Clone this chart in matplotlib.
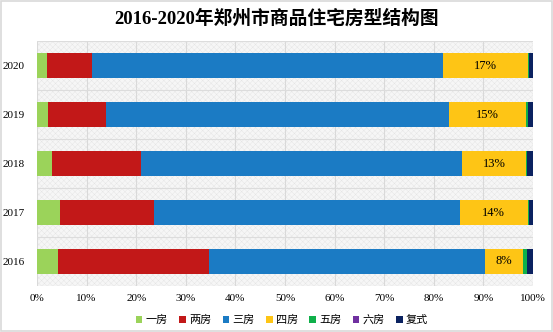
import matplotlib
matplotlib.use("Agg")
import matplotlib.pyplot as plt
from matplotlib.patches import Rectangle
import numpy as np

years = ["2016", "2017", "2018", "2019", "2020"]
series_names = ["一房", "两房", "三房", "四房", "五房", "六房", "复式"]
one_room = [4.2, 4.6, 3.1, 2.3, 2.1]
two_room = [30.5, 19.0, 17.9, 11.6, 9.0]
three_room = [55.6, 61.6, 64.7, 69.2, 70.8]
four_room = [7.7, 13.7, 12.9, 15.4, 17.0]
five_room = [0.7, 0.3, 0.1, 0.4, 0.3]
six_room = [0.0, 0.0, 0.0, 0.0, 0.0]
duplex = [1.3, 0.8, 1.3, 1.1, 0.8]
x_ticks = [0, 10, 20, 30, 40, 50, 60, 70, 80, 90, 100]
title = "2016-2020年郑州市商品住宅房型结构图"

colors = ["#9bd35a", "#c21818", "#1b7bc4", "#fec515", "#0fb04a", "#7030a0", "#0b2260"]
series = [one_room, two_room, three_room, four_room, five_room, six_room, duplex]

plt.rcParams['font.family'] = ['Liberation Serif', 'Noto Sans CJK SC', 'DejaVu Sans']
plt.rcParams['hatch.linewidth'] = 0.3

fig = plt.figure(figsize=(5.53, 3.32), dpi=100)
fig.patch.set_facecolor("white")
ax = fig.add_axes([37/553, 1-286/332, 496/553, 245/332])
ax.set_facecolor("#f6f6f6")
ax.add_patch(Rectangle((0, 0), 1, 1, transform=ax.transAxes, facecolor="none",
                       edgecolor="#e4e4e4", hatch="xxxxxx", linewidth=0, zorder=0))

y = np.arange(len(years))
left = np.zeros(len(years))
for name, vals, c in zip(series_names, series, colors):
    vals = np.array(vals)
    ax.barh(y, vals, left=left, height=0.49, color=c, label=name, zorder=3)
    if name == "四房":
        for yi, l, v in zip(y, left, vals):
            ax.text(l + v/2, yi, f"{v:.0f}%", ha="center", va="center",
                    fontsize=9, color="black", zorder=4)
    left += vals

ax.set_xlim(0, 100)
ax.set_ylim(-0.5, len(years) - 0.5)
ax.set_yticks(y)
ax.set_yticklabels(years, fontsize=8)
ax.set_xticks(x_ticks)
ax.set_xticklabels([f"{t}%" for t in x_ticks], fontsize=8)
ax.tick_params(axis="both", length=0)
ax.tick_params(axis="x", pad=6)
ax.tick_params(axis="y", pad=9)
for xt in x_ticks:
    ax.axvline(xt, color="#d9d9d9", linewidth=0.8, zorder=1)
for yb in np.arange(-0.5, len(years), 1.0):
    ax.axhline(yb, color="#dcdcdc", linewidth=0.8, zorder=1)
for s in ax.spines.values():
    s.set_visible(False)

fig.text(0.5, 1-18/332, title, ha="center", va="center", fontsize=13.5,
         fontweight="bold")

fig.legend(loc="center", bbox_to_anchor=(0.51, 1-320/332), ncol=7,
           frameon=False, handlelength=0.6, handleheight=0.6,
           handletextpad=0.3, columnspacing=1.0,
           prop={'family': ['Noto Sans CJK SC'], 'size': 8})

fig.patches.append(Rectangle((0.001, 0.002), 0.997, 0.996, transform=fig.transFigure,
                             facecolor="none", edgecolor="#d9d9d9", linewidth=1.2))

fig.savefig("out.png", dpi=100)
